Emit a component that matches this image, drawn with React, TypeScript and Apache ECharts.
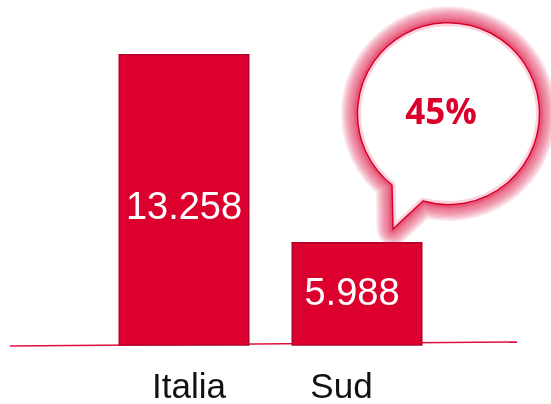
import React, { useEffect, useRef } from "react";
import * as echarts from "echarts";

const categories = ["Italia", "Sud"];
const values = [13258, 5988];
const shareLabel = "45%";

const RED = "#DC002F";

function fmt(v: number): string {
  return String(Math.round(v)).replace(/\B(?=(\d{3})+(?!\d))/g, ".");
}

let registered = false;
function registerBubble() {
  if (registered) return;
  registered = true;
  const d = "M 392 185 A 91 91 0 1 1 423 201 L 393 229 Z";
  echarts.graphic.registerShape("bubble", echarts.graphic.extendPath(d, {}) as any);
}

function glowLayers() {
  const out: any[] = [];
  for (let i = 0; i < 12; i++) {
    out.push({
      type: "bubble",
      z: 8,
      x: 0,
      y: 0,
      style: {
        fill: "none",
        stroke: "rgba(222,20,65,0.085)",
        lineWidth: 33 - i * 2.6,
        lineJoin: "round",
      },
    });
  }
  return out;
}

export default function App() {
  const ref = useRef<HTMLDivElement>(null);
  useEffect(() => {
    if (!ref.current) return;
    registerBubble();
    const chart = echarts.init(ref.current, null, { renderer: "svg" });
    const labelOffsets = [[0, 6], [-5, -2]];
    chart.setOption({
      animation: false,
      grid: { left: 97.5, width: 346, top: 9, bottom: 59 },
      xAxis: {
        type: "category",
        data: categories,
        axisLine: { show: false },
        axisTick: { show: false },
        axisLabel: {
          margin: 22,
          formatter: (v: string) => `{${v === "Italia" ? "a" : "b"}|${v}}`,
          rich: {
            a: { fontSize: 35, lineHeight: 36, color: "#111", fontFamily: "Liberation Sans", padding: [0, 0, 0, 10] },
            b: { fontSize: 35, lineHeight: 36, color: "#111", fontFamily: "Liberation Sans", padding: [0, 31, 0, 0] },
          },
        },
      },
      yAxis: {
        type: "value",
        min: 2000,
        max: 15000,
        show: false,
        splitLine: { show: false },
      },
      series: [
        {
          type: "bar",
          barWidth: 131,
          z: 3,
          data: values.map((v, i) => ({
            value: v,
            label: { offset: labelOffsets[i] },
          })),
          itemStyle: { color: RED, borderColor: "#B3002A", borderWidth: 1.5 },
          label: {
            show: true,
            position: "inside",
            color: "#fff",
            fontSize: 38,
            fontFamily: "Liberation Sans",
            formatter: (p: any) => fmt(p.value),
          },
        },
      ],
      graphic: [
        {
          type: "line",
          z: 1,
          shape: { x1: 10, y1: 346, x2: 517, y2: 342 },
          style: { stroke: "#E0103C", lineWidth: 1.5 },
        },
        ...glowLayers(),
        {
          type: "bubble",
          z: 11,
          x: 0,
          y: 0,
          style: { fill: "#fff", stroke: "none" },
        },
        {
          type: "bubble",
          z: 12,
          x: 0,
          y: 0,
          style: {
            fill: "none",
            stroke: "rgba(225,40,80,0.2)",
            lineWidth: 7,
            lineJoin: "round",
          },
        },
        {
          type: "bubble",
          z: 13,
          x: 0,
          y: 0,
          style: {
            fill: "none",
            stroke: "#D9002C",
            lineWidth: 1.5,
          },
        },
        {
          type: "text",
          z: 14,
          x: 441,
          y: 110,
          style: {
            text: shareLabel,
            fill: "#D9002C",
            font: "bold 35px 'Open Sans'",
            textAlign: "center",
            textVerticalAlign: "middle",
          },
        },
      ],
    });
    return () => chart.dispose();
  }, []);
  return (
    <div
      ref={ref}
      style={{ position: "fixed", left: 0, top: 0, width: 551, height: 404 }}
    />
  );
}
